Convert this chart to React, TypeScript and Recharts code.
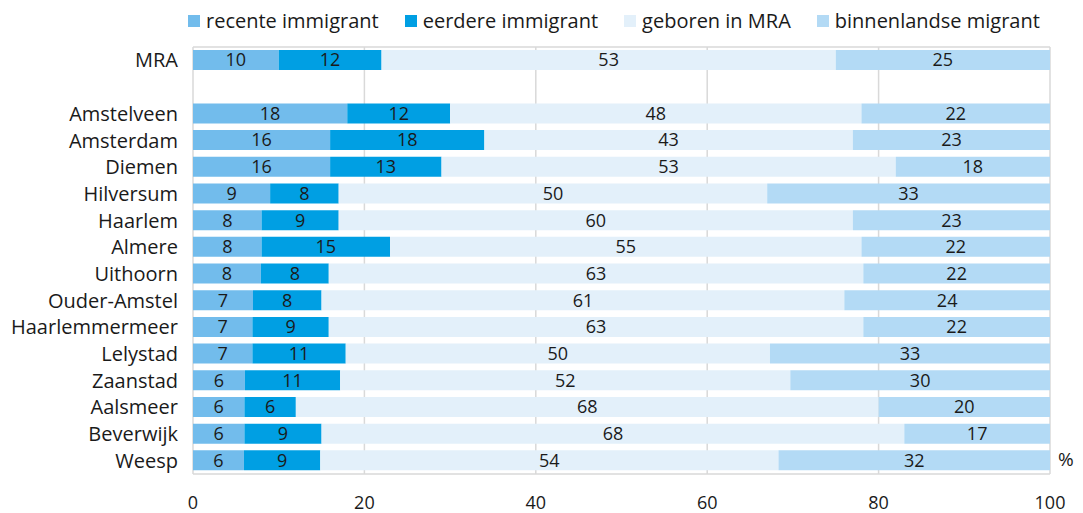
import { BarChart, Bar, XAxis, YAxis, CartesianGrid, Legend, LabelList } from "recharts";

const regions = ["MRA", "", "Amstelveen", "Amsterdam", "Diemen", "Hilversum", "Haarlem", "Almere", "Uithoorn", "Ouder-Amstel", "Haarlemmermeer", "Lelystad", "Zaanstad", "Aalsmeer", "Beverwijk", "Weesp"];
const recent = [10, null, 18, 16, 16, 9, 8, 8, 8, 7, 7, 7, 6, 6, 6, 6];
const earlier = [12, null, 12, 18, 13, 8, 9, 15, 8, 8, 9, 11, 11, 6, 9, 9];
const bornMRA = [53, null, 48, 43, 53, 50, 60, 55, 63, 61, 63, 50, 52, 68, 68, 54];
const domestic = [25, null, 22, 23, 18, 33, 23, 22, 22, 24, 22, 33, 30, 20, 17, 32];
const xTicks = [0, 0.2, 0.4, 0.6, 0.8, 1];

const series = [
  { key: "recent", name: "recente immigrant", color: "#72bcec" },
  { key: "earlier", name: "eerdere immigrant", color: "#009fe3" },
  { key: "born", name: "geboren in MRA", color: "#e3f0fa" },
  { key: "domestic", name: "binnenlandse migrant", color: "#b3daf5" },
];

const data = regions.map((name, i) => ({
  name,
  recent: recent[i],
  earlier: earlier[i],
  born: bornMRA[i],
  domestic: domestic[i],
}));

const font = "'Open Sans', 'Noto Sans', sans-serif";

function LegendContent() {
  return (
    <div style={{ display: "flex", gap: 26, fontFamily: font, fontSize: 20, color: "#1a1a1a", lineHeight: "28px" }}>
      {series.map((s) => (
        <div key={s.key} style={{ display: "flex", alignItems: "center" }}>
          <span style={{ width: 12, height: 12, background: s.color, marginRight: 6, display: "inline-block" }} />
          {s.name}
        </div>
      ))}
    </div>
  );
}

export default function App() {
  return (
    <div style={{ position: "absolute", left: 0, top: 0, width: 1083, height: 513, background: "#fff" }}>
      <BarChart
        width={1083}
        height={513}
        data={data}
        layout="vertical"
        stackOffset="expand"
        barSize={20}
        margin={{ top: 47, right: 33, bottom: 0, left: 8 }}
      >
        <CartesianGrid vertical horizontal horizontalPoints={[47, 474]} stroke="#d9d9d9" strokeWidth={1.5} />
        <XAxis
          type="number"
          domain={[0, 1]}
          ticks={xTicks}
          tickFormatter={(v: number) => String(Math.round(v * 100))}
          axisLine={false}
          tickLine={false}
          tickSize={0}
          tickMargin={22}
          height={39}
          tick={{ fill: "#1a1a1a", fontSize: 18, fontFamily: font }}
        />
        <YAxis
          type="category"
          dataKey="name"
          width={185}
          axisLine={false}
          tickLine={false}
          tickSize={0}
          tickMargin={15}
          interval={0}
          tick={{ fill: "#1a1a1a", fontSize: 20, fontFamily: font }}
        />
        <Legend verticalAlign="middle" content={<LegendContent />} wrapperStyle={{ top: 7, left: 188, width: 880 }} />
        {series.map((s) => (
          <Bar key={s.key} dataKey={s.key} name={s.name} stackId="a" fill={s.color} isAnimationActive={false}>
            <LabelList dataKey={s.key} position="center" fill="#1a1a1a" fontSize={18} fontFamily={font} />
          </Bar>
        ))}
      </BarChart>
      <div style={{ position: "absolute", left: 1058, top: 446, fontFamily: font, fontSize: 19, color: "#1a1a1a" }}>%</div>
    </div>
  );
}
